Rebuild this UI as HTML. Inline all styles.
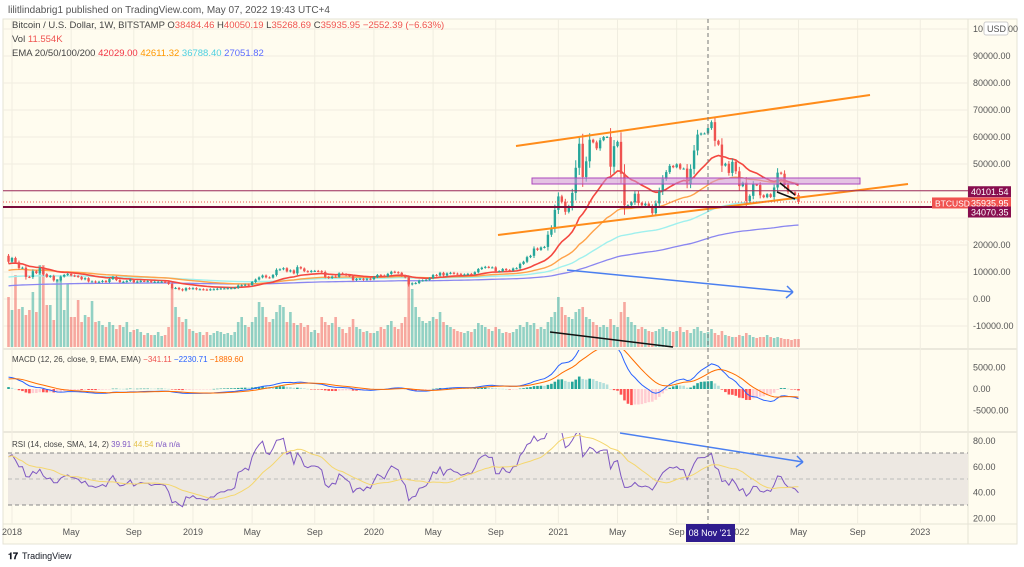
<!DOCTYPE html>
<html><head><meta charset="utf-8">
<style>
body{margin:0;background:#fff;font-family:"Liberation Sans",sans-serif;}
#wrap{position:relative;width:1024px;height:567px;overflow:hidden;background:#fff;}
svg text{font-family:"Liberation Sans",sans-serif;}
</style></head>
<body>
<div id="wrap">
<svg id="svg" width="1024" height="567" viewBox="0 0 1024 567">
  <text x="8" y="13" font-size="10" fill="#555">lilitlindabrig1 published on TradingView.com, May 07, 2022 19:43 UTC+4</text>
  <rect x="3" y="19" width="1014" height="525" fill="#fffcef" stroke="#e6e3d6"/>
  <line x1="968" y1="19" x2="968" y2="544" stroke="#e6e3d6"/>
  <line x1="3" y1="349" x2="1017" y2="349" stroke="#ebe8dc" stroke-width="2"/>
  <line x1="3" y1="432" x2="1017" y2="432" stroke="#ebe8dc" stroke-width="2"/>
  <line x1="3" y1="524" x2="1017" y2="524" stroke="#e6e3d6"/>
  <g id="grid"></g>
  <rect x="8" y="453" width="960" height="52" fill="#ede8e2"/>
  <line x1="8" y1="453" x2="968" y2="453" stroke="#888" stroke-dasharray="4,3"/>
  <line x1="8" y1="479" x2="968" y2="479" stroke="#bbb" stroke-dasharray="4,3"/>
  <line x1="8" y1="505" x2="968" y2="505" stroke="#888" stroke-dasharray="4,3"/>
  <g id="marks"></g>
  <g id="overlay"></g>
</svg>
</div>
<script>
// ===== data =====
const startLabel = "2017-12-25";
const closes = [13800,
15200,13600,11500,11600,8200,8100,10300,9600,11400,9200,8200,8500,6900,6900,8300,8900,9300,8700,8500,8200,7300,7700,6500,6500,6200,6400,6700,6300,7400,8200,7000,6300,6400,6700,7200,6200,6500,6700,6600,6600,6300,6400,6400,6400,6300,5600,4000,4100,3600,3200,4000,3800,
4000,3600,3600,3500,3400,3600,3600,3800,3900,3900,4000,4000,4100,5000,5100,5300,5200,6300,7200,8000,8700,8000,7900,8900,10800,11000,11400,10200,10600,9500,11800,11300,10300,10100,10400,10400,10300,10000,8200,7800,8300,8200,9500,9200,8800,8500,7000,7400,7500,7100,7500,7300,
8100,8900,8700,8400,9300,10100,9900,9700,8600,8000,5400,5800,5900,6800,6900,7100,7700,8900,8700,9700,8700,9500,9700,9400,9300,9000,9100,9300,9200,9900,11100,11600,11900,11700,11700,10300,10300,11100,10700,10600,11300,11400,13000,13800,15500,16000,18700,18200,19100,19300,23800,26500,
33000,38000,36000,32300,34300,39300,48600,57500,45200,51000,59000,58000,55800,58800,60000,60000,49000,56600,58200,46400,34700,34700,35800,39000,35600,34700,35300,34300,31800,35400,39900,44500,47000,49300,48800,49900,48300,48300,42700,48200,55000,60900,61300,61300,63300,65500,58600,57200,49400,50100,46700,50800,
47300,41800,43100,36300,38200,42400,42200,38400,37700,38800,37800,41300,46800,46400,42200,39700,39500,38500,35936];
const firstOpen = 16000;
const volumes = [50,37,72,38,40,32,37,55,35,82,82,42,42,27,68,68,37,63,30,30,47,25,32,30,46,25,26,22,20,25,22,18,22,20,25,15,17,18,15,12,14,12,12,15,11,12,20,60,40,30,25,28,18,
16,14,15,12,15,12,14,16,15,13,14,12,15,25,30,22,20,25,30,45,40,30,25,28,35,42,40,25,35,24,22,24,20,22,15,17,14,30,25,22,24,30,20,18,14,20,28,20,18,15,16,14,
14,16,20,18,22,26,20,18,24,30,70,58,40,30,26,24,26,30,28,35,25,22,20,18,16,15,14,16,15,18,24,22,20,18,16,20,18,14,15,14,15,18,22,20,25,22,24,18,20,18,25,30,
35,50,40,32,30,28,35,38,40,30,28,25,22,20,22,20,28,22,20,35,45,30,25,22,18,20,18,16,15,16,18,20,18,16,15,16,20,15,17,14,18,20,16,14,15,18,14,12,16,12,11,10,
10,12,11,14,12,10,9,10,10,12,10,9,10,9,8,8,7,8,8];
const emaPeriods = [20,50,100,200];
const emaSeeds = [13000,10500,8000,4800];
const macdSeeds = [14000,11000,2200];
const rsiSeeds = [1400,500];
const priceTicks = [100000,90000,80000,70000,60000,50000,40000,30000,20000,10000,0,-10000];
const macdTicks = [5000,0,-5000];
const rsiTicks = [80,60,40,20];
const timeLabels = ["2018","May","Sep","2019","May","Sep","2020","May","Sep","2021","May","Sep","2022","May","Sep","2023"];
const timeWeeks = [0,17,35,52,69,87,104,121,139,157,174,191,209,226,243,261];
const levels = [40101.54,34070.35];
const lastPrice = 35935.95;
</script>
<script>
const NS="http://www.w3.org/2000/svg";
const marks=document.getElementById('marks'), overlay=document.getElementById('overlay'), grid=document.getElementById('grid');
function mk(tag,attrs,parent){const e=document.createElementNS(NS,tag);for(const k in attrs)e.setAttribute(k,attrs[k]);(parent||marks).appendChild(e);return e;}
const xW = w => 12 + w*3.48;
const xI = i => xW(i-1);
const yP = v => 299 - v*0.0027;
const yM = v => 389 - v*0.0043;
const yR = v => 441 + (80-v)*1.2875;
const yV = v => 347 - v;

priceTicks.forEach(t=>{const l=mk('line',{x1:3,x2:968,y1:yP(t),y2:yP(t),stroke:'#f0ede0'},grid);
});
timeWeeks.forEach(w=>{const l=mk('line',{x1:xW(w),x2:xW(w),y1:19,y2:524,stroke:'#f0ede0'},grid);
});

const defs=mk('defs',{},document.getElementById('svg'));
function clip(id,y1,y2){const c=mk('clipPath',{id:id},defs);mk('rect',{x:3,y:y1,width:965,height:y2-y1},c);}
clip('cp',19,349);clip('cm',350,432);clip('cr',433,524);

const gv=mk('g',{'clip-path':'url(#cp)'});

volumes.forEach((v,i)=>{const o=i?closes[i-1]:firstOpen;const up=closes[i]>=o;
const r=mk('rect',{x:xI(i)-1.3,y:yV(v),width:2.6,height:v,fill:up?'rgba(38,166,154,0.5)':'rgba(239,83,80,0.5)'},gv);
});

function ema(arr,p,seed){const k=2/(p+1);let e=seed;return arr.map(c=>(e=c*k+e*(1-k)));}
const emaColors=['#f4473f','#ffa24a','#9ff0ee','#8a86f0'];
const emaWidths=[1.6,1.4,1.4,1.3];
const gl=mk('g',{'clip-path':'url(#cp)'});
[3,2,1,0].forEach(j=>{const e=ema(closes,emaPeriods[j],emaSeeds[j]);
const p=mk('polyline',{points:e.map((v,i)=>xI(i)+','+yP(v)).join(' '),fill:'none',stroke:emaColors[j],'stroke-width':emaWidths[j]},gl);
});

const gc=mk('g',{'clip-path':'url(#cp)'});

closes.forEach((c,i)=>{const o=i?closes[i-1]:firstOpen;const up=c>=o;
const y1=yP(Math.max(o,c)),y2=yP(Math.min(o,c));const col=up?'#26a69a':'#ef5350';
const wl=mk('line',{x1:xI(i),x2:xI(i),y1:y1-Math.max(1,(y2-y1)*0.3),y2:y2+Math.max(1,(y2-y1)*0.3),stroke:col,'stroke-width':1},gc);

const r=mk('rect',{x:xI(i)-1.2,y:y1,width:2.4,height:Math.max(1,y2-y1),fill:col},gc);
});

// MACD
const e12=ema(closes,12,macdSeeds[0]),e26=ema(closes,26,macdSeeds[1]);
const macd=e12.map((v,i)=>v-e26[i]);const sig=ema(macd,9,macdSeeds[2]);
const gm=mk('g',{'clip-path':'url(#cm)'});
macd.forEach((m,i)=>{const h=m-sig[i];const prev=i?macd[i-1]-sig[i-1]:0;
const col=h>=0?(h>=prev?'#26a69a':'#b2dfdb'):(h<prev?'#ff5252':'#ffcdd2');
const r=mk('rect',{x:xI(i)-1.3,y:Math.min(yM(h),yM(0)),width:2.6,height:Math.max(0.5,Math.abs(yM(h)-yM(0))),fill:col},gm);
});
const ml=mk('polyline',{points:macd.map((v,i)=>xI(i)+','+yM(v)).join(' '),fill:'none',stroke:'#2962ff','stroke-width':1},gm);

const sl=mk('polyline',{points:sig.map((v,i)=>xI(i)+','+yM(v)).join(' '),fill:'none',stroke:'#ff6d00','stroke-width':1},gm);


// RSI
const rsi=[];let ag=rsiSeeds[0],al=rsiSeeds[1];
closes.forEach((c,i)=>{const d=i?c-closes[i-1]:c-firstOpen;const g=Math.max(d,0),l=Math.max(-d,0);
ag=(ag*13+g)/14;al=(al*13+l)/14;
rsi.push(al===0?100:100-100/(1+ag/al));});
const rsiMa=rsi.map((v,i)=>{const s=rsi.slice(Math.max(0,i-13),i+1);return s.reduce((a,b)=>a+b,0)/s.length;});
const gr=mk('g',{'clip-path':'url(#cr)'});
const rl=mk('polyline',{points:rsi.map((v,i)=>xI(i)+','+yR(v)).join(' '),fill:'none',stroke:'#7e57c2','stroke-width':1},gr);

const rm=mk('polyline',{points:rsiMa.map((v,i)=>xI(i)+','+yR(v)).join(' '),fill:'none',stroke:'#f5d76e','stroke-width':1},gr);


function ln(a,name,o){const l=mk('line',Object.assign({x1:a[0],y1:a[1],x2:a[2],y2:a[3]},o),overlay);
return l;}
ln([516,146,870,95],'channel-upper-line',{stroke:'#ff8c1a','stroke-width':2});
ln([498,235,908,184],'channel-lower-line',{stroke:'#ff8c1a','stroke-width':2});
const box=mk('rect',{x:532,y:178,width:328,height:6,fill:'rgba(206,147,216,0.55)',stroke:'#ab47bc','stroke-width':1},overlay);

ln([3,yP(levels[0]),968,yP(levels[0])],'level-line-40101',{stroke:'#9c2a5a','stroke-width':1});
ln([3,yP(levels[1]),968,yP(levels[1])],'level-line-34070',{stroke:'#7a0c3c','stroke-width':2});
ln([3,yP(lastPrice),968,yP(lastPrice)],'last-price-line',{stroke:'#ef5350','stroke-width':1,'stroke-dasharray':'1,2'});
ln([780,183,795,195],'wedge-upper-line',{stroke:'#111','stroke-width':1.5});
ln([777,192,795,199],'wedge-lower-line',{stroke:'#111','stroke-width':1.5});
ln([550,332,673,347],'volume-trend-line',{stroke:'#111','stroke-width':1.5});
ln([567,270,793,292],'price-arrow-line',{stroke:'#4a7ff0','stroke-width':1.5});
ln([787,286,793,292],'price-arrow-head-a',{stroke:'#4a7ff0','stroke-width':1.5});
ln([786,298,793,292],'price-arrow-head-b',{stroke:'#4a7ff0','stroke-width':1.5});
ln([620,433,803,462],'rsi-arrow-line',{stroke:'#4a7ff0','stroke-width':1.5});
ln([797,456,803,462],'rsi-arrow-head-a',{stroke:'#4a7ff0','stroke-width':1.5});
ln([796,467,803,462],'rsi-arrow-head-b',{stroke:'#4a7ff0','stroke-width':1.5});
ln([708,19,708,524],'crosshair-vertical',{stroke:'#777','stroke-width':1,'stroke-dasharray':'4,3'});

function tx(x,y,s,name,o){const t=mk('text',Object.assign({x:x,y:y,'font-size':9,fill:'#555'},o||{}),overlay);t.textContent=s;
return t;}
priceTicks.forEach(t=>{if(t===100000||t===40000||t===30000)return;tx(973,yP(t)+3,t.toFixed(2),'price-tick-label');});
tx(973,32,'10','price-tick-label-top');
const ub=mk('rect',{x:984,y:22,width:24,height:13,rx:2,fill:'#fff',stroke:'#ccc'},overlay);

tx(987,32,'USD','currency-label');tx(1008,32,'00','price-tick-label-top-end');
macdTicks.forEach(t=>tx(973,yM(t)+3,t.toFixed(2),'macd-tick-label'));
rsiTicks.forEach(t=>tx(973,yR(t)+3,t.toFixed(2),'rsi-tick-label'));
timeLabels.forEach((s,i)=>tx(xW(timeWeeks[i]),535,s,'time-tick-label',{'text-anchor':'middle'}));
function tag(y,txt,col,name){const r=mk('rect',{x:968,y:y-5.5,width:43,height:11,fill:col},overlay);

tx(971,y+3.5,txt,name,{fill:'#fff'});}
tag(yP(levels[0])+1,levels[0].toFixed(2),'#880e4f','level-tag-40101');
tag(yP(lastPrice)+1,lastPrice.toFixed(2),'#f05350','last-price-tag');
tag(yP(levels[1])+5,levels[1].toFixed(2),'#880e4f','level-tag-34070');
const bt=mk('rect',{x:932,y:yP(lastPrice)-4.5,width:36,height:11,fill:'#f05350'},overlay);

tx(935,yP(lastPrice)+4.5,'BTCUSD','symbol-tag',{fill:'#fff','font-size':8.5});
const hb=mk('rect',{x:686,y:524,width:49,height:18,fill:'#2f1c8e'},overlay);

tx(710,536,"08 Nov '21",'crosshair-date-label',{fill:'#fff','text-anchor':'middle'});

const lg=[[24,'Bitcoin / U.S. Dollar, 1W, BITSTAMP',[['O',''],['38484.46','#ef5350'],[' H',''],['40050.19','#ef5350'],[' L',''],['35268.69','#ef5350'],[' C',''],['35935.95','#ef5350'],[' −2552.39 (−6.63%)','#ef5350']]],
[38,'Vol',[[' 11.554K','#ef5350']]],
[52,'EMA 20/50/100/200',[[' 42029.00','#f23645'],[' 42611.32','#ff9800'],[' 36788.40','#4dd0e1'],[' 27051.82','#5b6cff']]],
[358,'MACD (12, 26, close, 9, EMA, EMA)',[[' −341.11','#ef5350'],[' −2230.71','#2962ff'],[' −1889.60','#ff6d00']]],
[443,'RSI (14, close, SMA, 14, 2)',[[' 39.91','#7e57c2'],[' 44.54','#e5c24c'],[' n/a n/a','#7e57c2']]]];
lg.forEach((row,k)=>{const t=mk('text',{x:12,y:row[0]+4,'font-size':k<3?9.5:8,fill:'#444'},overlay);


t.appendChild(document.createTextNode(row[1]+' '));
row[2].forEach(p=>{const s=document.createElementNS(NS,'tspan');s.textContent=p[0];if(p[1])s.setAttribute('fill',p[1]);t.appendChild(s);});});

tx(8,559,'𝟏𝟕','footer-logo-icon',{'font-size':9,fill:'#131722','font-weight':'bold'});
tx(22,559,'TradingView','footer-logo-text',{'font-size':9,fill:'#131722'});
</script>
</body></html>
